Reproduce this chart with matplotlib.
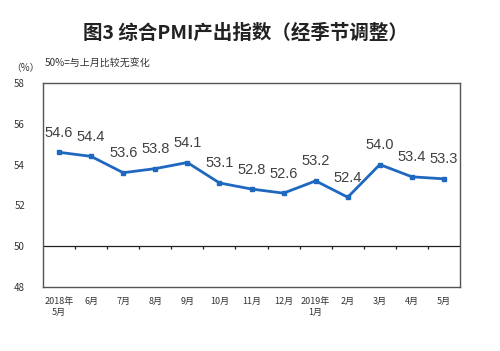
import numpy as np
import matplotlib
matplotlib.use("Agg")
import matplotlib.pyplot as plt

plt.rcParams['font.family'] = ['Noto Sans CJK SC', 'DejaVu Sans']

months = ["2018年\n5月", "6月", "7月", "8月", "9月", "10月", "11月", "12月",
          "2019年\n1月", "2月", "3月", "4月", "5月"]
pmi = [54.6, 54.4, 53.6, 53.8, 54.1, 53.1, 52.8, 52.6, 53.2, 52.4, 54.0, 53.4, 53.3]
yticks = [48, 50, 52, 54, 56, 58]

blue = "#1f68c0"

fig = plt.figure(figsize=(5.0, 3.51), dpi=100)
ax = fig.add_axes([0.086, 0.182, 0.834, 0.582])

x = np.arange(len(pmi))
ax.plot(x, pmi, color=blue, lw=2, marker="s", ms=3.5, zorder=3)
for xi, v in zip(x, pmi):
    ax.annotate("%.1f" % v, (xi, v), xytext=(0, 9), textcoords="offset points",
                ha="center", va="bottom", fontsize=10.5, color="#404040",
                family="Liberation Sans")

# 50 reference line with boundary ticks
ax.axhline(50, color="#202020", lw=0.9, zorder=2)
ax.vlines(np.arange(0.5, len(pmi) - 1, 1.0), 49.85, 50, color="#202020", lw=0.9)

ax.set_xlim(-0.5, len(pmi) - 0.5)
ax.set_ylim(48, 58)
ax.set_xticks(x)
ax.set_xticklabels(months, fontsize=6.5, color="#333333", linespacing=1.3)
ax.set_yticks(yticks)
ax.set_yticklabels([str(t) for t in yticks], fontsize=7, color="#333333")
ax.tick_params(axis="both", length=0)
ax.tick_params(axis="y", pad=13)
ax.tick_params(axis="x", pad=7)
for s in ax.spines.values():
    s.set_color("#555555")
    s.set_linewidth(1.0)

fig.text(0.49, 0.905, "图3 综合PMI产出指数（经季节调整）", ha="center", va="center",
         fontsize=14, fontweight="bold", color="#222222")
fig.text(0.022, 0.805, "（%）", ha="left", va="center", fontsize=7, color="#333333")
fig.text(0.09, 0.818, "50%=与上月比较无变化", ha="left", va="center", fontsize=7.2,
         color="#333333")

fig.savefig("out.png", dpi=100)
